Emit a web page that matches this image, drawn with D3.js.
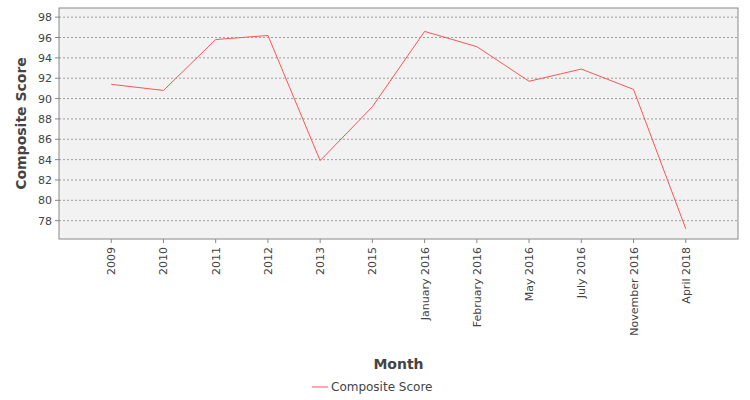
<!DOCTYPE html>
<html><head><meta charset="utf-8">
<script src="https://cdn.jsdelivr.net/npm/d3@7"></script>
<style>body{margin:0;background:#fff}svg{font-family:"DejaVu Sans",sans-serif}</style>
</head><body><svg width="750" height="400"></svg>
<script>
const categories=["2009","2010","2011","2012","2013","2015","January 2016","February 2016","May 2016","July 2016","November 2016","April 2018"];
const values=[91.4,90.8,95.8,96.2,83.9,89.2,96.6,95.1,91.7,92.9,90.9,77.2];
const yTicks=[78,80,82,84,86,88,90,92,94,96,98];
const seriesName="Composite Score";
const svg=d3.select("svg");
const L=59,R=738,T=8,B=239;
const x=d3.scalePoint().domain(categories).range([L,R]).padding(1);
const y=d3.scaleLinear().domain([76.2,98.9]).range([B,T]);
svg.append("rect").attr("x",L).attr("y",T).attr("width",R-L).attr("height",B-T).attr("fill","#f2f2f2").attr("stroke","#888");
svg.selectAll(".g").data(yTicks).enter().append("line").attr("x1",L).attr("x2",R).attr("y1",d=>y(d)).attr("y2",d=>y(d)).attr("stroke","#666").attr("stroke-width",0.6).attr("stroke-dasharray","2,2");
const ya=svg.selectAll(".yt").data(yTicks).enter();
ya.append("line").attr("x1",L-4).attr("x2",L).attr("y1",d=>y(d)).attr("y2",d=>y(d)).attr("stroke","#888");
ya.append("text").attr("x",L-7).attr("y",d=>y(d)+4).attr("text-anchor","end").attr("font-size",11).attr("fill","#444").text(d=>d);
const xa=svg.selectAll(".xt").data(categories).enter();
xa.append("line").attr("x1",d=>x(d)).attr("x2",d=>x(d)).attr("y1",B).attr("y2",B+4).attr("stroke","#888");
xa.append("text").attr("transform",d=>`translate(${x(d)+4},${B+8}) rotate(-90)`).attr("text-anchor","end").attr("font-size",11).attr("fill","#444").text(d=>d);
svg.append("path").datum(values).attr("fill","none").attr("stroke","#ff5555").attr("stroke-width",1)
 .attr("d",d3.line().x((d,i)=>x(categories[i])).y(d=>y(d)));
svg.append("text").attr("transform",`translate(26,${(T+B)/2}) rotate(-90)`).attr("text-anchor","middle").attr("font-size",14).attr("font-weight","bold").attr("fill","#444").text("Composite Score");
svg.append("text").attr("x",(L+R)/2).attr("y",369).attr("text-anchor","middle").attr("font-size",14).attr("font-weight","bold").attr("fill","#444").text("Month");
svg.append("line").attr("x1",312).attr("x2",328).attr("y1",387).attr("y2",387).attr("stroke","#ff5555");
svg.append("text").attr("x",331).attr("y",391).attr("font-size",12).attr("fill","#444").text(seriesName);
</script></body></html>
